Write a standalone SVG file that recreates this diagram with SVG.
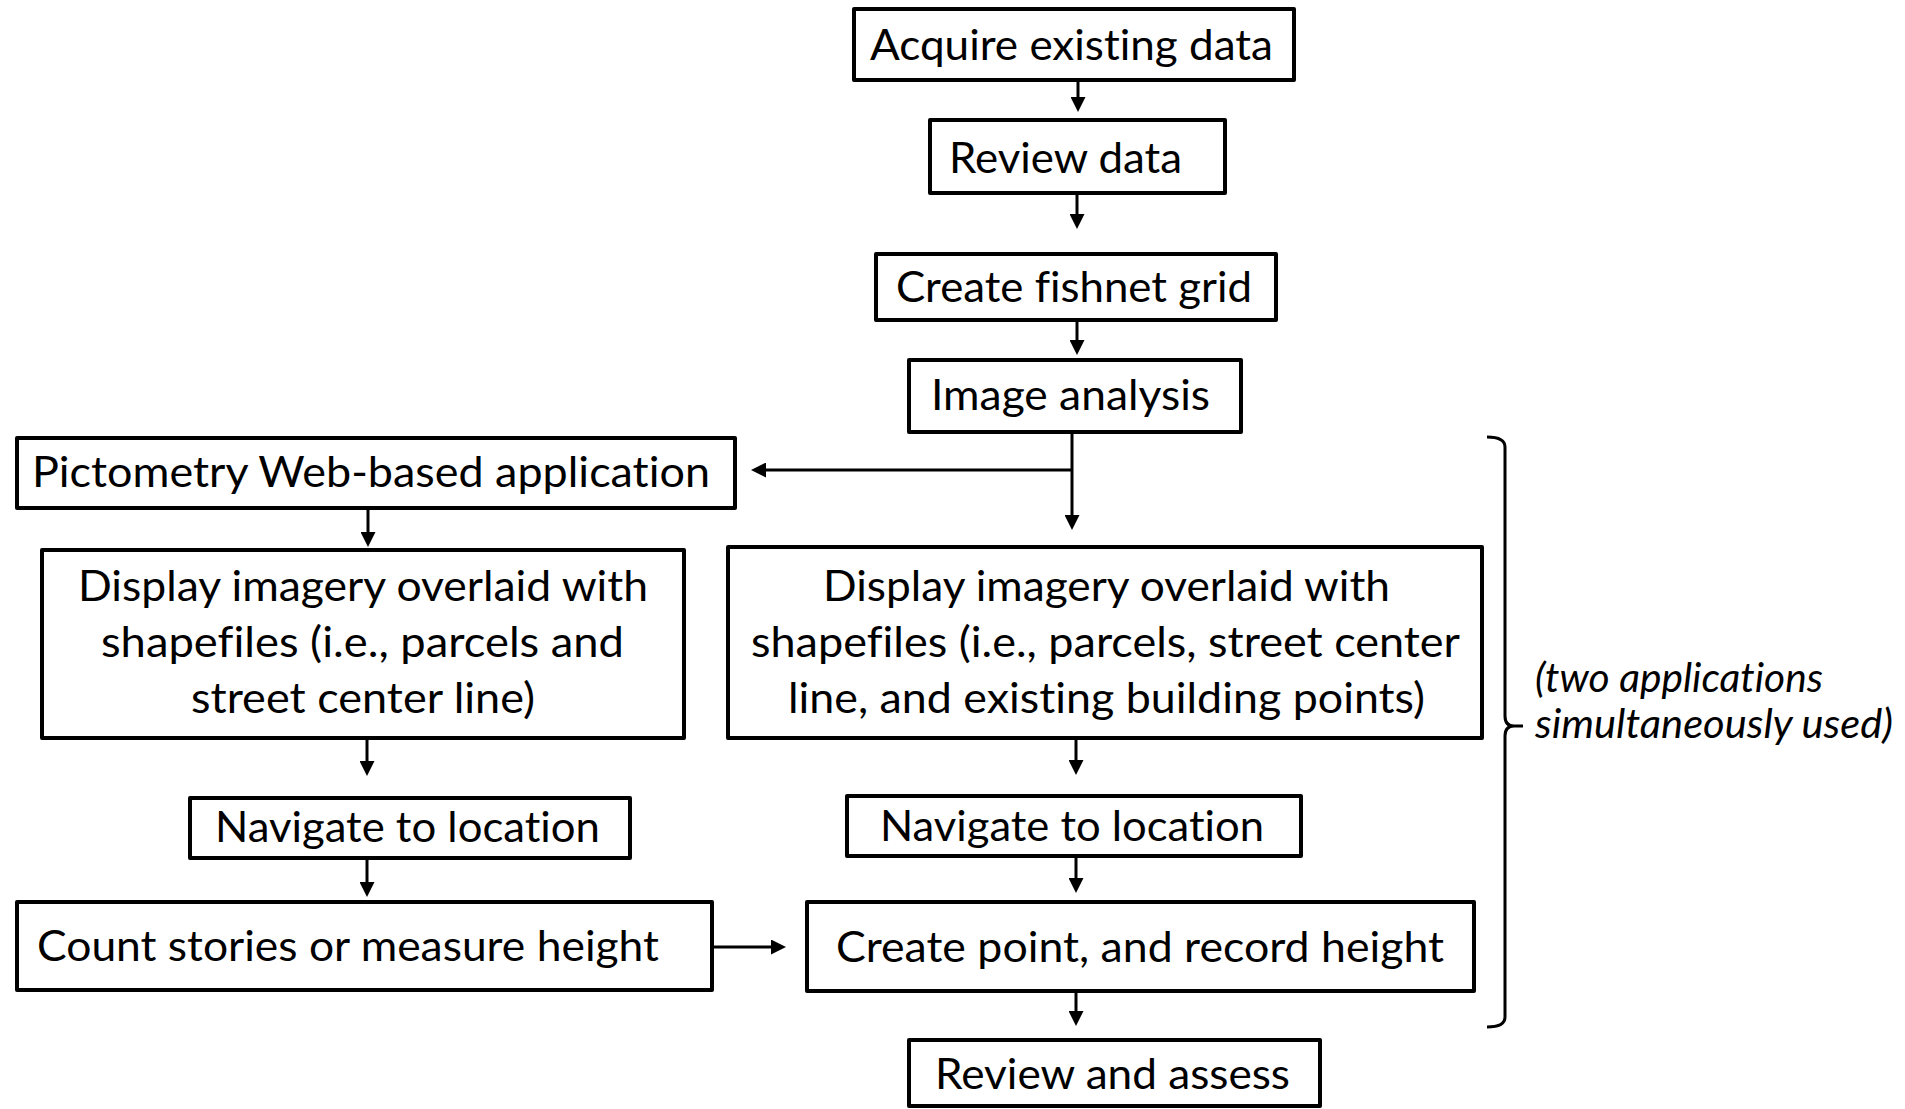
<svg xmlns="http://www.w3.org/2000/svg" width="1905" height="1109" viewBox="0 0 1905 1109">
<style>
  .box { fill: #ffffff; stroke: #000000; stroke-width: 4; stroke-linejoin: round; }
  .lbl { font-family: Lato, "Open Sans", "Liberation Sans", sans-serif; font-size: 43px; fill: #000000; font-variant-ligatures: none; }
  .note { font-family: Lato, "Open Sans", "Liberation Sans", sans-serif; font-size: 40px; font-style: italic; fill: #000000; font-variant-ligatures: none; }
  .conn { fill: none; stroke: #000000; stroke-width: 3; }
  .brace { fill: none; stroke: #000000; stroke-width: 3; stroke-linejoin: round; }
</style>
<defs>
  <marker id="arrow" viewBox="0 0 15 15" markerWidth="15" markerHeight="15" refX="5" refY="7.5" orient="auto" markerUnits="userSpaceOnUse">
    <path d="M0,0 L15,7.5 L0,15 z" fill="#000000"/>
  </marker>
</defs>
<rect width="1905" height="1109" fill="#ffffff"/>

<g id="connectors">
  <path class="conn" d="M1078,81 V102" marker-end="url(#arrow)"/>
  <path class="conn" d="M1077,193 V219" marker-end="url(#arrow)"/>
  <path class="conn" d="M1077,320 V345" marker-end="url(#arrow)"/>
  <path class="conn" d="M1072,432 V520" marker-end="url(#arrow)"/>
  <path class="conn" d="M1072,470 H761" marker-end="url(#arrow)"/>
  <path class="conn" d="M368,508 V537" marker-end="url(#arrow)"/>
  <path class="conn" d="M367,738 V766" marker-end="url(#arrow)"/>
  <path class="conn" d="M367,858 V887" marker-end="url(#arrow)"/>
  <path class="conn" d="M712,947 H776" marker-end="url(#arrow)"/>
  <path class="conn" d="M1076,738 V765" marker-end="url(#arrow)"/>
  <path class="conn" d="M1076,856 V883" marker-end="url(#arrow)"/>
  <path class="conn" d="M1076,991 V1016" marker-end="url(#arrow)"/>
</g>

<g id="acquire">
  <rect class="box" x="854" y="9" width="440" height="71"/>
  <text class="lbl" x="870" y="60" textLength="403" lengthAdjust="spacingAndGlyphs">Acquire existing data</text>
</g>
<g id="review-data">
  <rect class="box" x="930" y="120" width="295" height="73"/>
  <text class="lbl" x="949" y="173" textLength="233" lengthAdjust="spacingAndGlyphs">Review data</text>
</g>
<g id="fishnet">
  <rect class="box" x="876" y="254" width="400" height="66"/>
  <text class="lbl" x="896" y="302" textLength="356" lengthAdjust="spacingAndGlyphs">Create fishnet grid</text>
</g>
<g id="image-analysis">
  <rect class="box" x="909" y="360" width="332" height="72"/>
  <text class="lbl" x="931" y="410" textLength="279" lengthAdjust="spacingAndGlyphs">Image analysis</text>
</g>
<g id="pictometry">
  <rect class="box" x="17" y="438" width="718" height="70"/>
  <text class="lbl" x="32" y="487" textLength="678" lengthAdjust="spacingAndGlyphs">Pictometry Web-based application</text>
</g>
<g id="display-left">
  <rect class="box" x="42" y="550" width="642" height="188"/>
  <text class="lbl" x="78" y="601" textLength="570" lengthAdjust="spacingAndGlyphs">Display imagery overlaid with</text>
  <text class="lbl" x="101" y="657" textLength="523" lengthAdjust="spacingAndGlyphs">shapefiles (i.e., parcels and</text>
  <text class="lbl" x="191" y="713" textLength="344" lengthAdjust="spacingAndGlyphs">street center line)</text>
</g>
<g id="display-right">
  <rect class="box" x="728" y="547" width="754" height="191"/>
  <text class="lbl" x="823" y="601" textLength="567" lengthAdjust="spacingAndGlyphs">Display imagery overlaid with</text>
  <text class="lbl" x="751" y="657" textLength="709" lengthAdjust="spacingAndGlyphs">shapefiles (i.e., parcels, street center</text>
  <text class="lbl" x="788" y="713" textLength="637" lengthAdjust="spacingAndGlyphs">line, and existing building points)</text>
</g>
<g id="navigate-left">
  <rect class="box" x="190" y="798" width="440" height="60"/>
  <text class="lbl" x="215" y="842" textLength="385" lengthAdjust="spacingAndGlyphs">Navigate to location</text>
</g>
<g id="navigate-right">
  <rect class="box" x="847" y="796" width="454" height="60"/>
  <text class="lbl" x="880" y="841" textLength="384" lengthAdjust="spacingAndGlyphs">Navigate to location</text>
</g>
<g id="count">
  <rect class="box" x="17" y="902" width="695" height="88"/>
  <text class="lbl" x="37" y="961" textLength="622" lengthAdjust="spacingAndGlyphs">Count stories or measure height</text>
</g>
<g id="create-point">
  <rect class="box" x="807" y="902" width="667" height="89"/>
  <text class="lbl" x="836" y="962" textLength="608" lengthAdjust="spacingAndGlyphs">Create point, and record height</text>
</g>
<g id="review-assess">
  <rect class="box" x="909" y="1040" width="411" height="66"/>
  <text class="lbl" x="935" y="1089" textLength="355" lengthAdjust="spacingAndGlyphs">Review and assess</text>
</g>

<g id="bracket">
  <path class="brace" d="M1487,437 Q1505,437 1505,447 V716 Q1505,726 1514,726 H1523 M1514,726 Q1505,726 1505,736 V1017 Q1505,1027 1487,1027"/>
  <text class="note" x="1535" y="692" textLength="288" lengthAdjust="spacingAndGlyphs">(two applications</text>
  <text class="note" x="1535" y="738" textLength="358" lengthAdjust="spacingAndGlyphs">simultaneously used)</text>
</g>
</svg>
